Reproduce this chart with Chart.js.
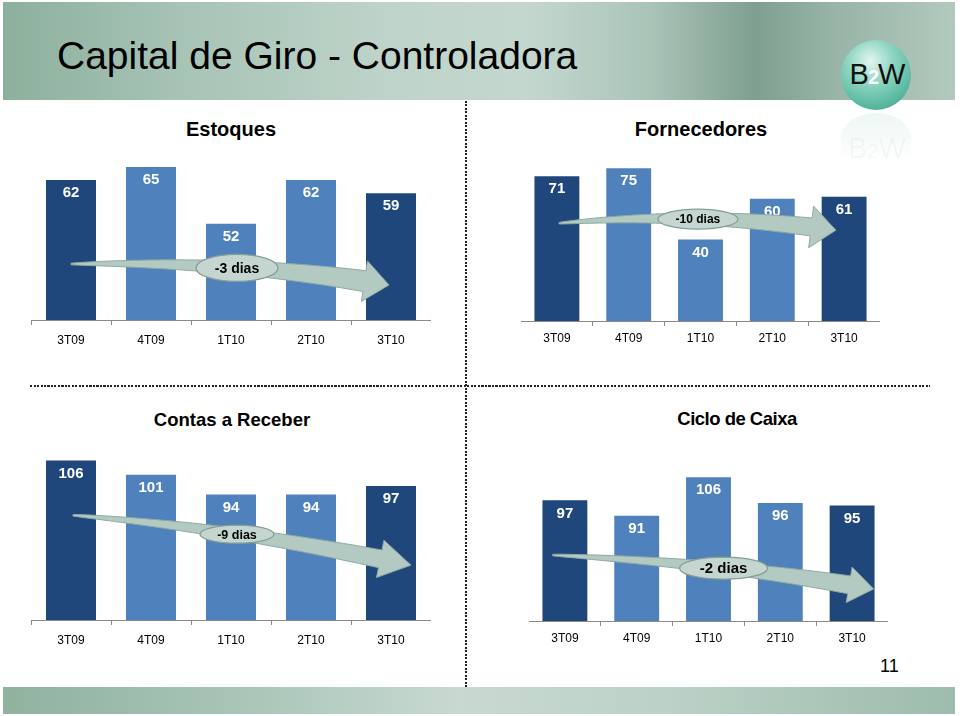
<!DOCTYPE html>
<html>
<head>
<meta charset="utf-8">
<script src="https://cdn.jsdelivr.net/npm/chart.js@4.4.0/dist/chart.umd.min.js"></script>
<style>
	body { margin: 0; width: 960px; height: 716px; background: #fff; position: relative; overflow: hidden; font-family: "Liberation Sans", Arial, sans-serif; }
	.abs { position: absolute; }
	.banner { left: 3px; top: 2px; width: 952px; height: 98px;
		background: linear-gradient(90deg, #8db09d 0%, #a6c3b5 18%, #bed3c9 40%, #c4d7ce 55%, #aac4b8 68%, #7f9f90 79%, #97b4a6 87%, #b3c9be 100%); }
	.title { left: 57px; top: 34px; font-size: 39px; color: #000; white-space: nowrap; }
	.logo { left: 841px; top: 40px; width: 70px; height: 70px; border-radius: 50%;
		background: radial-gradient(circle at 42% 30%, #e4f6f0 0%, #8fd6c3 35%, #5bb9a0 70%, #3f9a82 100%); }
	.logoText { left: 841px; top: 58px; width: 72px; text-align: center; font-size: 29px; color: #111; letter-spacing: -1px; }
	.logoText span { color: #fff; font-size: 20px; font-weight: bold; }
	.reflex { left: 841px; top: 113px; width: 70px; height: 50px; border-radius: 50% 50% 0 0;
		background: linear-gradient(180deg, rgba(140,200,180,0.15), rgba(255,255,255,0)); }
	.reflexText { left: 841px; top: 132px; width: 72px; text-align: center; font-size: 29px; color: rgba(0,0,0,0.04); }
	.chartTitle { font-size: 20px; font-weight: bold; color: #000; transform: translateX(-50%); white-space: nowrap; }
	.hdots { left: 30px; top: 385px; width: 900px; height: 2px; background: repeating-linear-gradient(90deg, #222 0 2px, transparent 2px 3.5px); }
	.vdots { left: 465px; top: 101px; width: 2px; height: 588px; background: repeating-linear-gradient(180deg, #222 0 2px, transparent 2px 3.5px); }
	.footer { left: 3px; top: 687px; width: 952px; height: 27px;
		background: linear-gradient(90deg, #90b29f 0%, #a9c5b8 25%, #c8d9d1 48%, #bcd1c7 70%, #9dbcad 100%); }
	.pageNo { left: 880px; top: 656px; font-size: 18px; color: #000; }
	canvas { position: absolute; }
</style>
</head>
<body>
<div class="abs banner"></div>
<div class="abs title">Capital de Giro - Controladora</div>
<div class="abs reflex"></div>
<div class="abs reflexText">B<span style="font-size:20px">2</span>W</div>
<div class="abs logo"></div>
<div class="abs logoText">B<span>2</span>W</div>

<div class="abs chartTitle" style="left:231px; top:118px;">Estoques</div>
<div class="abs chartTitle" style="left:701px; top:118px;">Fornecedores</div>
<div class="abs chartTitle" style="left:232px; top:409px; font-size:18.5px;">Contas a Receber</div>
<div class="abs chartTitle" style="left:737px; top:408px; font-size:18.5px; letter-spacing:-0.5px;">Ciclo de Caixa</div>

<div class="abs hdots"></div>
<div class="abs vdots"></div>
<div class="abs footer"></div>
<div class="abs pageNo">11</div>

<canvas id="chartEstoques" width="400" height="205" style="left:31px; top:145px;"></canvas>
<canvas id="chartFornecedores" width="359" height="193" style="left:521px; top:158px;"></canvas>
<canvas id="chartReceber" width="400" height="201" style="left:31px; top:449px;"></canvas>
<canvas id="chartCiclo" width="359" height="184" style="left:529px; top:467px;"></canvas>

<script>
const quarters = ["3T09", "4T09", "1T10", "2T10", "3T10"];
const estoques = [62, 65, 52, 62, 59];
const fornecedores = [71, 75, 40, 60, 61];
const contasReceber = [106, 101, 94, 94, 97];
const cicloCaixa = [97, 91, 106, 96, 95];
const variacoes = ["-3 dias", "-10 dias", "-9 dias", "-2 dias"];

const DARK = "#1f477b";
const LIGHT = "#4f81bd";
const barColors = [DARK, LIGHT, LIGHT, LIGHT, DARK];
const FONT = "'Liberation Sans', Arial, sans-serif";

// white value inside the top of each bar
const valueLabels = {
	id: "valueLabels",
	afterDatasetsDraw(chart) {
		const ctx = chart.ctx;
		ctx.save();
		ctx.fillStyle = "#fff";
		ctx.font = "bold 15px " + FONT;
		ctx.textAlign = "center";
		ctx.textBaseline = "middle";
		chart.getDatasetMeta(0).data.forEach((bar, i) => {
			ctx.fillText(chart.data.datasets[0].data[i], bar.x, bar.y + 13);
		});
		ctx.restore();
	},
};

// curved trend arrow with the ellipse label; points given as [category index, value]
const trendArrow = {
	id: "trendArrow",
	afterDraw(chart, args, opts) {
		if (!opts.tail) return;
		const xs = chart.scales.x;
		const ys = chart.scales.y;
		const px = (p) => ({ x: xs.getPixelForValue(p[0]), y: ys.getPixelForValue(p[1]) });
		const p0 = px(opts.tail);
		const c = px(opts.ctrl);
		const p2 = px(opts.tip);
		const q = (t) => ({
			x: (1 - t) * (1 - t) * p0.x + 2 * (1 - t) * t * c.x + t * t * p2.x,
			y: (1 - t) * (1 - t) * p0.y + 2 * (1 - t) * t * c.y + t * t * p2.y,
		});
		const dq = (t) => {
			const dx = 2 * (1 - t) * (c.x - p0.x) + 2 * t * (p2.x - c.x);
			const dy = 2 * (1 - t) * (c.y - p0.y) + 2 * t * (p2.y - c.y);
			const m = Math.hypot(dx, dy);
			return { nx: -dy / m, ny: dx / m };
		};
		let len = 0;
		let prev = p0;
		for (let i = 1; i <= 60; i++) {
			const p = q(i / 60);
			len += Math.hypot(p.x - prev.x, p.y - prev.y);
			prev = p;
		}
		const th = 1 - opts.headLen / len;
		const upper = [];
		const lower = [];
		const n = 50;
		for (let i = 0; i <= n; i++) {
			const t = (th * i) / n;
			const p = q(t);
			const d = dq(t);
			const w = 0.8 + (opts.body - 0.8) * Math.pow(i / n, 0.8);
			upper.push({ x: p.x + d.nx * w, y: p.y + d.ny * w });
			lower.push({ x: p.x - d.nx * w, y: p.y - d.ny * w });
		}
		const pb = q(th);
		const db = dq(th);
		const ctx = chart.ctx;
		ctx.save();
		ctx.beginPath();
		ctx.moveTo(upper[0].x, upper[0].y);
		upper.forEach((p) => ctx.lineTo(p.x, p.y));
		ctx.lineTo(pb.x + db.nx * opts.head, pb.y + db.ny * opts.head);
		ctx.lineTo(p2.x, p2.y);
		ctx.lineTo(pb.x - db.nx * opts.head, pb.y - db.ny * opts.head);
		for (let i = lower.length - 1; i >= 0; i--) ctx.lineTo(lower[i].x, lower[i].y);
		ctx.closePath();
		ctx.fillStyle = "#b2cac2";
		ctx.strokeStyle = "#8fa9a0";
		ctx.lineWidth = 1;
		ctx.fill();
		ctx.stroke();

		const e = px(opts.ellipse);
		ctx.beginPath();
		ctx.ellipse(e.x, e.y, opts.rx, opts.ry, 0, 0, Math.PI * 2);
		ctx.fillStyle = "#c5d6d0";
		ctx.strokeStyle = "#859e96";
		ctx.lineWidth = 1.3;
		ctx.fill();
		ctx.stroke();
		ctx.fillStyle = "#000";
		ctx.font = "bold " + opts.fontSize + "px " + FONT;
		ctx.textAlign = "center";
		ctx.textBaseline = "middle";
		ctx.fillText(opts.label, e.x, e.y + 1);
		ctx.restore();
	},
};

const makeChart = (id, values, yMin, yMax, tickPad, arrow) =>
	new Chart(document.getElementById(id), {
		type: "bar",
		data: {
			labels: quarters,
			datasets: [
				{
					data: values,
					backgroundColor: barColors,
					barPercentage: 0.625,
					categoryPercentage: 1,
				},
			],
		},
		options: {
			responsive: false,
			animation: false,
			events: [],
			layout: { padding: 0 },
			plugins: {
				legend: { display: false },
				tooltip: { enabled: false },
				trendArrow: arrow,
			},
			scales: {
				x: {
					grid: { display: true, drawOnChartArea: false, drawTicks: true, tickLength: 5, offset: true, color: "#8a8a8a" },
					border: { color: "#8a8a8a" },
					ticks: { color: "#000", padding: tickPad, font: { size: 12, family: FONT } },
					afterFit: (s) => {
						s.height = 30;
					},
				},
				y: { display: false, min: yMin, max: yMax },
			},
		},
		plugins: [valueLabels, trendArrow],
	});

makeChart("chartEstoques", estoques, 30, 70, 8, {
	tail: [0, 42.8], ctrl: [2.175, 43.5], tip: [3.975, 38], ellipse: [2.075, 41.9],
	rx: 41, ry: 13.5, body: 10.5, head: 20.5, headLen: 27, label: variacoes[0], fontSize: 14,
});
makeChart("chartFornecedores", fornecedores, 0, 80, 5, {
	tail: [0.03, 48], ctrl: [1.971, 53.9], tip: [3.886, 44.6], ellipse: [1.964, 50],
	rx: 40, ry: 10, body: 9, head: 21, headLen: 25, label: variacoes[1], fontSize: 12,
});
makeChart("chartReceber", contasReceber, 50, 110, 8, {
	tail: [0.025, 86.75], ctrl: [2.05, 82.2], tip: [4.25, 69.25], ellipse: [2.075, 80.1],
	rx: 37, ry: 9, body: 9, head: 19, headLen: 30, label: variacoes[2], fontSize: 12.5,
});
makeChart("chartCiclo", cicloCaixa, 50, 110, 5, {
	tail: [-0.17, 75.7], ctrl: [2.36, 72.2], tip: [4.3, 62.45], ellipse: [2.21, 70.6],
	rx: 44, ry: 11, body: 9, head: 18, headLen: 28, label: variacoes[3], fontSize: 15,
});
</script>
</body>
</html>
